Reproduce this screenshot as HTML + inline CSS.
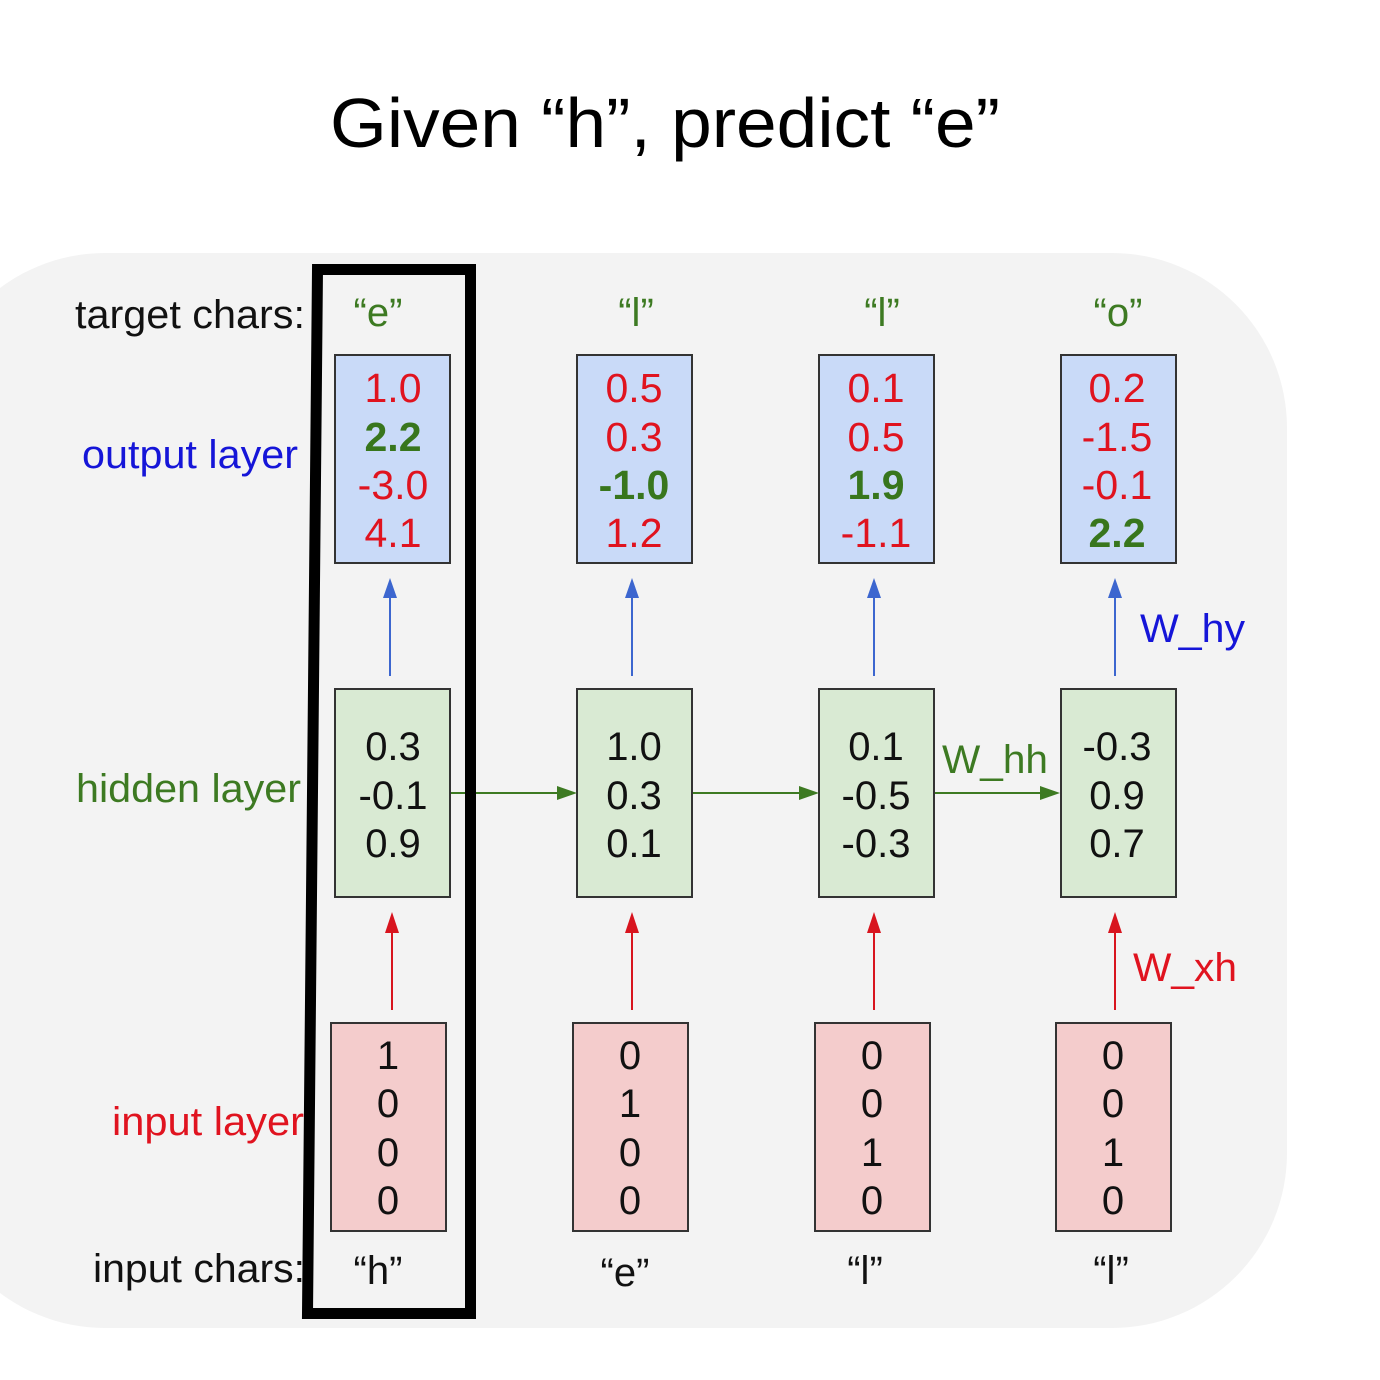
<!DOCTYPE html>
<html>
<head>
<meta charset="utf-8">
<style>
html,body{margin:0;padding:0;background:#ffffff;}
svg{display:block;}
text{font-family:"Liberation Sans",Arial,sans-serif;}
</style>
</head>
<body>
<svg width="1380" height="1380" viewBox="0 0 1380 1380" xmlns="http://www.w3.org/2000/svg">
  <rect x="0" y="0" width="1380" height="1380" fill="#ffffff"/>
  <!-- Title -->
  <text x="330" y="147" font-size="70" fill="#000" textLength="670" lengthAdjust="spacingAndGlyphs">Given “h”, predict “e”</text>

  <!-- gray panel -->
  <rect x="-70" y="253" width="1357" height="1075" rx="175" ry="175" fill="#f3f3f3"/>

  <!-- left labels -->
  <text x="75" y="328" font-size="40" fill="#111" textLength="230" lengthAdjust="spacingAndGlyphs">target chars:</text>
  <text x="82" y="468" font-size="40" fill="#1515d8" textLength="216" lengthAdjust="spacingAndGlyphs">output layer</text>
  <text x="76" y="802" font-size="40" fill="#3d7a22" textLength="225" lengthAdjust="spacingAndGlyphs">hidden layer</text>
  <text x="112" y="1135" font-size="40" fill="#e0131f" textLength="192" lengthAdjust="spacingAndGlyphs">input layer</text>
  <text x="93" y="1282" font-size="40" fill="#111" textLength="212" lengthAdjust="spacingAndGlyphs">input chars:</text>

  <!-- target chars -->
  <g font-size="40" fill="#3d7a22" text-anchor="middle">
    <text x="378" y="326">“e”</text>
    <text x="636" y="326">“l”</text>
    <text x="882" y="326">“l”</text>
    <text x="1118" y="326">“o”</text>
  </g>

  <!-- output boxes -->
  <g fill="#c9daf8" stroke="#333" stroke-width="2">
    <rect x="335" y="355" width="115" height="208"/>
    <rect x="577" y="355" width="115" height="208"/>
    <rect x="819" y="355" width="115" height="208"/>
    <rect x="1061" y="355" width="115" height="208"/>
  </g>
  <g font-size="41" text-anchor="middle">
    <text x="393" y="402" fill="#e0131f">1.0</text>
    <text x="393" y="451" fill="#38761d" font-weight="bold">2.2</text>
    <text x="393" y="499" fill="#e0131f">-3.0</text>
    <text x="393" y="547" fill="#e0131f">4.1</text>

    <text x="634" y="402" fill="#e0131f">0.5</text>
    <text x="634" y="451" fill="#e0131f">0.3</text>
    <text x="634" y="499" fill="#38761d" font-weight="bold">-1.0</text>
    <text x="634" y="547" fill="#e0131f">1.2</text>

    <text x="876" y="402" fill="#e0131f">0.1</text>
    <text x="876" y="451" fill="#e0131f">0.5</text>
    <text x="876" y="499" fill="#38761d" font-weight="bold">1.9</text>
    <text x="876" y="547" fill="#e0131f">-1.1</text>

    <text x="1117" y="402" fill="#e0131f">0.2</text>
    <text x="1117" y="451" fill="#e0131f">-1.5</text>
    <text x="1117" y="499" fill="#e0131f">-0.1</text>
    <text x="1117" y="547" fill="#38761d" font-weight="bold">2.2</text>
  </g>

  <!-- blue arrows -->
  <g stroke="#3c66cf" stroke-width="2">
    <line x1="390" y1="676" x2="390" y2="594"/>
    <line x1="632" y1="676" x2="632" y2="594"/>
    <line x1="874" y1="676" x2="874" y2="594"/>
    <line x1="1115" y1="676" x2="1115" y2="594"/>
  </g>
  <g fill="#3c66cf">
    <polygon points="390,578 383,598 397,598"/>
    <polygon points="632,578 625,598 639,598"/>
    <polygon points="874,578 867,598 881,598"/>
    <polygon points="1115,578 1108,598 1122,598"/>
  </g>
  <text x="1140" y="642" font-size="40" fill="#1515d8" textLength="105" lengthAdjust="spacingAndGlyphs">W_hy</text>

  <!-- hidden boxes -->
  <g fill="#d9ead3" stroke="#333" stroke-width="2">
    <rect x="335" y="689" width="115" height="208"/>
    <rect x="577" y="689" width="115" height="208"/>
    <rect x="819" y="689" width="115" height="208"/>
    <rect x="1061" y="689" width="115" height="208"/>
  </g>
  <g font-size="40" text-anchor="middle" fill="#111">
    <text x="393" y="760">0.3</text>
    <text x="393" y="809">-0.1</text>
    <text x="393" y="857">0.9</text>

    <text x="634" y="760">1.0</text>
    <text x="634" y="809">0.3</text>
    <text x="634" y="857">0.1</text>

    <text x="876" y="760">0.1</text>
    <text x="876" y="809">-0.5</text>
    <text x="876" y="857">-0.3</text>

    <text x="1117" y="760">-0.3</text>
    <text x="1117" y="809">0.9</text>
    <text x="1117" y="857">0.7</text>
  </g>

  <!-- green arrows -->
  <g stroke="#3d7a22" stroke-width="2">
    <line x1="451" y1="793" x2="560" y2="793"/>
    <line x1="693" y1="793" x2="802" y2="793"/>
    <line x1="935" y1="793" x2="1044" y2="793"/>
  </g>
  <g fill="#3d7a22">
    <polygon points="577,793 557,786 557,800"/>
    <polygon points="819,793 799,786 799,800"/>
    <polygon points="1060,793 1040,786 1040,800"/>
  </g>
  <text x="942" y="773" font-size="40" fill="#3d7a22" textLength="106" lengthAdjust="spacingAndGlyphs">W_hh</text>

  <!-- red arrows -->
  <g stroke="#d8141e" stroke-width="2">
    <line x1="392" y1="1010" x2="392" y2="928"/>
    <line x1="632" y1="1010" x2="632" y2="928"/>
    <line x1="874" y1="1010" x2="874" y2="928"/>
    <line x1="1115" y1="1010" x2="1115" y2="928"/>
  </g>
  <g fill="#d8141e">
    <polygon points="392,912 385,933 399,933"/>
    <polygon points="632,912 625,933 639,933"/>
    <polygon points="874,912 867,933 881,933"/>
    <polygon points="1115,912 1108,933 1122,933"/>
  </g>
  <text x="1133" y="981" font-size="40" fill="#e0131f" textLength="104" lengthAdjust="spacingAndGlyphs">W_xh</text>

  <!-- input boxes -->
  <g fill="#f4cccc" stroke="#333" stroke-width="2">
    <rect x="331" y="1023" width="115" height="208"/>
    <rect x="573" y="1023" width="115" height="208"/>
    <rect x="815" y="1023" width="115" height="208"/>
    <rect x="1056" y="1023" width="115" height="208"/>
  </g>
  <g font-size="40" text-anchor="middle" fill="#111">
    <text x="388" y="1069">1</text>
    <text x="388" y="1117">0</text>
    <text x="388" y="1166">0</text>
    <text x="388" y="1214">0</text>

    <text x="630" y="1069">0</text>
    <text x="630" y="1117">1</text>
    <text x="630" y="1166">0</text>
    <text x="630" y="1214">0</text>

    <text x="872" y="1069">0</text>
    <text x="872" y="1117">0</text>
    <text x="872" y="1166">1</text>
    <text x="872" y="1214">0</text>

    <text x="1113" y="1069">0</text>
    <text x="1113" y="1117">0</text>
    <text x="1113" y="1166">1</text>
    <text x="1113" y="1214">0</text>
  </g>

  <!-- input chars -->
  <g font-size="40" fill="#111" text-anchor="middle">
    <text x="378" y="1284">“h”</text>
    <text x="625" y="1286">“e”</text>
    <text x="865" y="1284">“l”</text>
    <text x="1111" y="1284">“l”</text>
  </g>

  <!-- black highlight frame -->
  <path d="M317.5,269.5 L470.5,269.5 L470.5,1313.5 L307.5,1313.5 Z" fill="none" stroke="#000" stroke-width="11" stroke-linejoin="miter"/>
</svg>
</body>
</html>
